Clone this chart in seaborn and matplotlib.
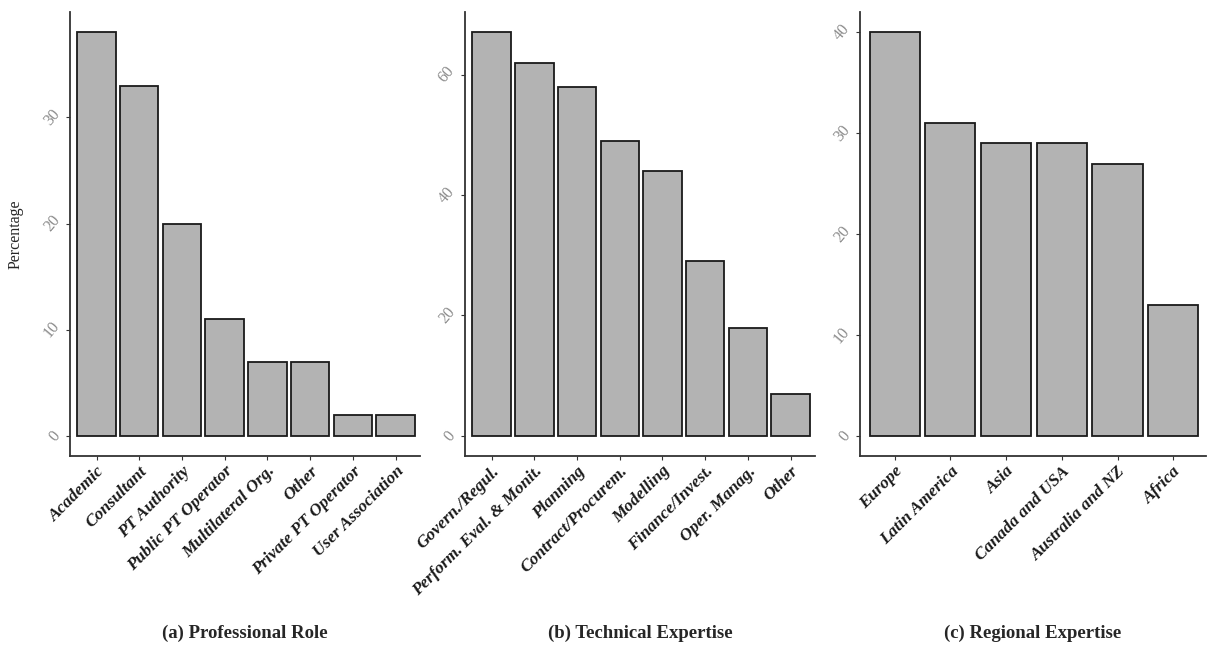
import matplotlib
matplotlib.use("Agg")
import matplotlib.pyplot as plt
import seaborn as sns

# panel (a) professional role
role_labels = ['Academic', 'Consultant', 'PT Authority', 'Public PT Operator',
               'Multilateral Org.', 'Other', 'Private PT Operator', 'User Association']
role_values = [38, 33, 20, 11, 7, 7, 2, 2]
role_ticks = [0, 10, 20, 30]

# panel (b) technical expertise
tech_labels = ['Govern./Regul.', 'Perform. Eval. & Monit.', 'Planning', 'Contract/Procurem.',
               'Modelling', 'Finance/Invest.', 'Oper. Manag.', 'Other']
tech_values = [67, 62, 58, 49, 44, 29, 18, 7]
tech_ticks = [0, 20, 40, 60]

# panel (c) regional expertise
region_labels = ['Europe', 'Latin America', 'Asia', 'Canada and USA', 'Australia and NZ', 'Africa']
region_values = [40, 31, 29, 29, 27, 13]
region_ticks = [0, 10, 20, 30, 40]

titles = ['(a) Professional Role', '(b) Technical Expertise', '(c) Regional Expertise']

sns.set_style("white")
plt.rcParams['font.family'] = ['Liberation Serif', 'DejaVu Serif']

fig = plt.figure(figsize=(12.08, 6.46), dpi=100)

panels = [
    (role_labels, role_values, role_ticks, [0.058, 0.294, 0.290, 0.687]),
    (tech_labels, tech_values, tech_ticks, [0.385, 0.294, 0.290, 0.687]),
    (region_labels, region_values, region_ticks, [0.712, 0.294, 0.286, 0.687]),
]

for i, (labels, values, ticks, rect) in enumerate(panels):
    ax = fig.add_axes(rect)
    sns.barplot(x=labels, y=values, color='#b3b3b3', saturation=1,
                edgecolor='#1a1a1a', linewidth=1.3, width=0.9, ax=ax)
    n = len(labels)
    top = max(values)
    ax.set_xlim(-0.62, n - 0.42)
    ax.set_ylim(-0.05 * top, 1.05 * top)
    ax.set_yticks(ticks)
    ax.set_yticklabels([str(t) for t in ticks], rotation=50, color='#8c8c8c',
                       fontsize=11.5, va='center')
    ax.set_xticks(range(n))
    ax.set_xticklabels(labels, rotation=45, ha='right', rotation_mode='anchor',
                       fontsize=12.5, fontweight='bold', fontstyle='italic', color='#1a1a1a')
    for s in ['top', 'right']:
        ax.spines[s].set_visible(False)
    for s in ['left', 'bottom']:
        ax.spines[s].set_color('#333333')
        ax.spines[s].set_linewidth(1.3)
    ax.tick_params(axis='both', length=3, width=0.8, color='#333333', pad=2,
                   left=True, bottom=True)
    ax.set_xlabel('')
    ax.set_ylabel('Percentage' if i == 0 else '', fontsize=11.5, labelpad=12)
    cx = rect[0] + rect[2] / 2
    fig.text(cx, 0.006, titles[i], ha='center', va='bottom', fontsize=13.5,
             fontweight='bold')

fig.savefig('out.png', dpi=100)
